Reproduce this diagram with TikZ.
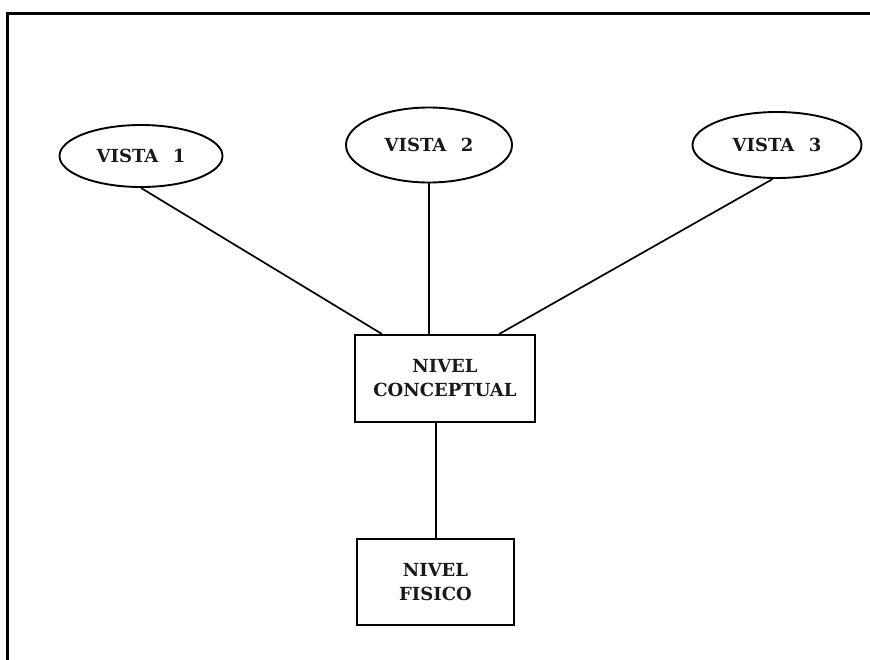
\documentclass[tikz,border=0pt]{standalone}
\usepackage{fontspec}
\setmainfont{DejaVu Serif}
\usetikzlibrary{shapes.geometric}
\begin{document}
\begin{tikzpicture}[x=1pt,y=-1pt,
  lbl/.style={font=\fontsize{18}{24}\selectfont\bfseries, align=center, text=black!90, inner sep=0pt},
  vista/.style={lbl, draw, ellipse, line width=1.9pt},
  nivel/.style={lbl, draw, rectangle, line width=1.9pt},
  conn/.style={line width=1.7pt},
  frame/.style={line width=3pt}]
\useasboundingbox (0,0) rectangle (870,659);
\fill[white] (0,0) rectangle (870,659);
% frame
\coordinate (ftl) at (7,13);
\coordinate (ftr) at (872,13);
\coordinate (fbl) at (7,661);
\draw[frame] (ftr) -- (ftl) -- (fbl);
% nodes
\node[vista, minimum width=163pt, minimum height=62pt] (v1) at (141,156) {VISTA\hspace{0.8em}1};
\node[vista, minimum width=166pt, minimum height=75pt] (v2) at (429,145) {VISTA\hspace{0.8em}2};
\node[vista, minimum width=169pt, minimum height=66pt] (v3) at (777,145) {VISTA\hspace{0.8em}3};
\node[nivel, minimum width=180pt, minimum height=87pt] (c) at (445,378.5) {NIVEL\\CONCEPTUAL};
\node[nivel, minimum width=157pt, minimum height=86pt] (f) at (435.5,582) {NIVEL\\FISICO};
% connectors
\draw[conn] (v1.south) -- ([xshift=28pt]c.north west);
\draw[conn] (v2.south) -- (v2.south |- c.north);
\draw[conn] (v3.-97) -- ([xshift=145pt]c.north west);
\draw[conn] ([xshift=82pt]c.south west) -- ([xshift=82pt]c.south west |- f.north);
\end{tikzpicture}
\end{document}
